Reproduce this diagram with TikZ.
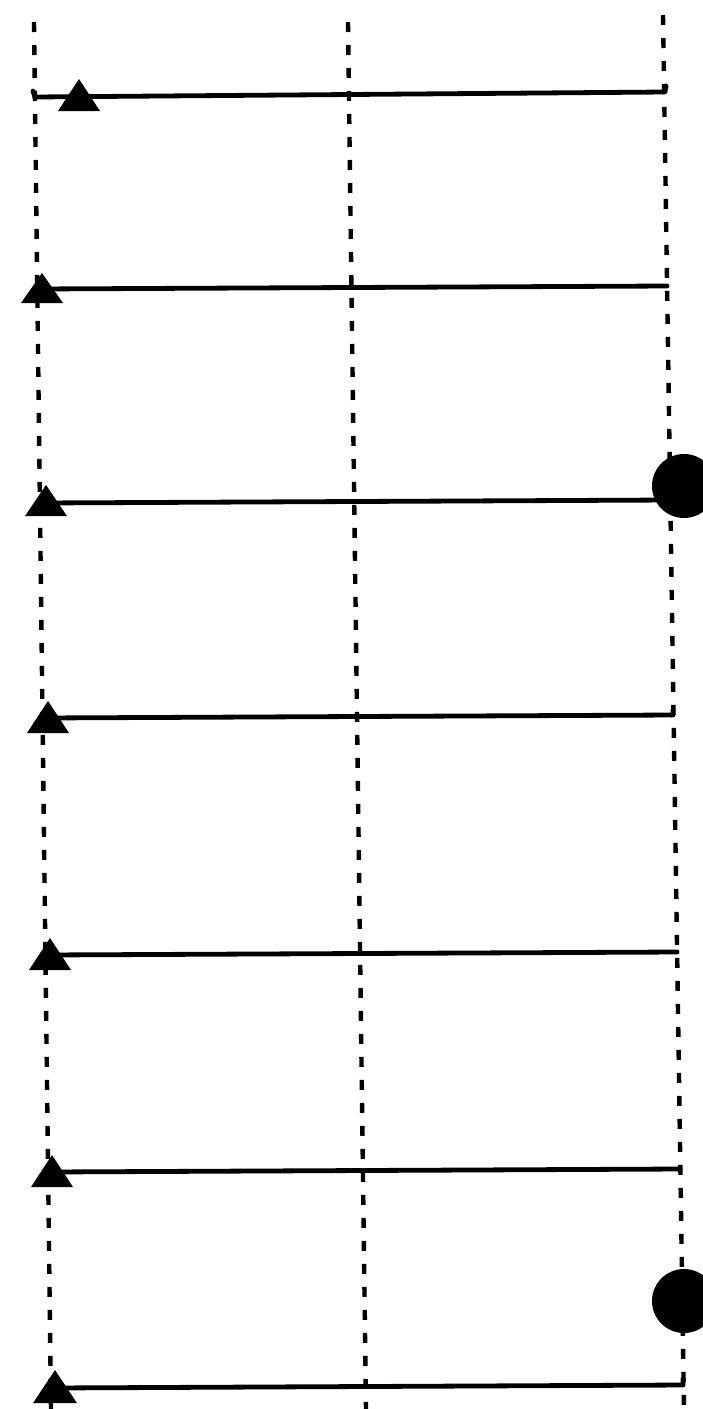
\documentclass[tikz,border=0pt]{standalone}
\begin{document}
\begin{tikzpicture}[x=1pt,y=-1pt,line cap=round,line join=round]
  \useasboundingbox (0,0) rectangle (703,1409);
  % dashed verticals
  \draw[line width=4.4pt,line cap=butt,dash pattern=on 10pt off 13pt] (34,22) -- (51,1409);
  \draw[line width=4.4pt,line cap=butt,dash pattern=on 10pt off 13pt] (348,22) -- (366,1409);
  \draw[line width=4.4pt,line cap=butt,dash pattern=on 10pt off 13pt] (663,15) -- (684,1409);
  % rungs
  \draw[line width=4.8pt] (33,91) -- (35,97) -- (665,92) -- (666,86);
  \draw[line width=4.8pt] (37,289) -- (667,286);
  \draw[line width=4.8pt] (40,503) -- (670,500);
  \draw[line width=4.8pt] (42,718) -- (673,715) -- (673,710);
  \draw[line width=4.8pt] (45,955) -- (677,952);
  \draw[line width=4.8pt] (48,1172) -- (680,1169);
  \draw[line width=4.8pt] (50,1388) -- (683,1385) -- (683,1379);
  % triangles
  \fill (79,97) +(-21,14) -- +(0,-18) -- +(21,14) -- cycle;
  \fill (42,289) +(-21,14) -- +(0,-16) -- +(21,14) -- cycle;
  \fill (46,503) +(-21,13) -- +(0,-18) -- +(21,13) -- cycle;
  \fill (48,718) +(-21,15) -- +(0,-17) -- +(21,15) -- cycle;
  \fill (50,955) +(-21,15) -- +(0,-17) -- +(21,15) -- cycle;
  \fill (52,1172) +(-21,15) -- +(0,-17) -- +(21,15) -- cycle;
  \fill (55,1388) +(-22,15) -- +(0,-18) -- +(22,15) -- cycle;
  % end dots
  \fill (684,486) circle (32pt);
  \fill (684,1301) circle (32pt);
\end{tikzpicture}
\end{document}
